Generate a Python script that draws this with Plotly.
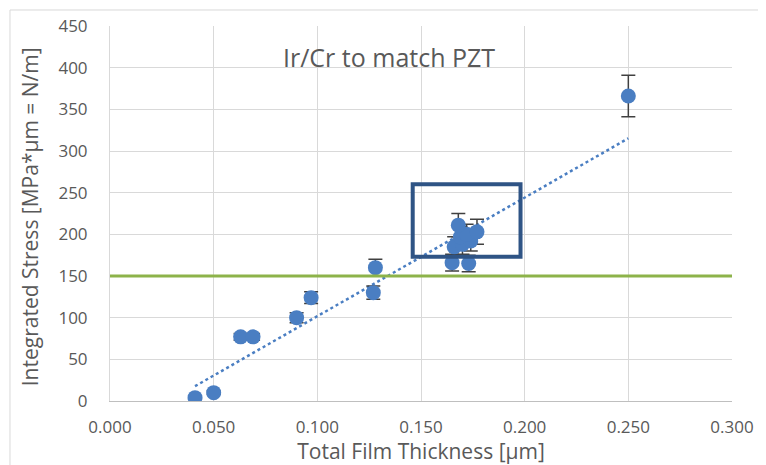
import numpy as np
import plotly.graph_objects as go

thickness = [0.041, 0.050, 0.063, 0.069, 0.090, 0.097, 0.127, 0.128,
             0.165, 0.173, 0.166, 0.170, 0.174, 0.169, 0.172, 0.168, 0.177, 0.250]
stress = [4, 10, 77, 77, 100, 124, 130, 160,
          166, 165, 185, 188, 192, 197, 200, 211, 203, 366]
stress_err = [2, 2, 4, 4, 6, 7, 8, 10,
              10, 10, 12, 12, 12, 12, 12, 14, 15, 25]

target_stress = 150
box_x = [0.146, 0.198]
box_y = [173, 260]
x_ticks = [0.0, 0.05, 0.10, 0.15, 0.20, 0.25, 0.30]
x_tick_text = ["0.000", "0.050", "0.100", "0.150", "0.200", "0.250", "0.300"]
y_ticks = [0, 50, 100, 150, 200, 250, 300, 350, 400, 450]

FONT = "Open Sans"
GRAY = "#595959"
BLUE = "#4A7EC2"

slope, intercept = np.polyfit(thickness, stress, 1)
tx = np.array([min(thickness), max(thickness)])
ty = slope * tx + intercept

fig = go.Figure()
fig.add_trace(go.Scatter(x=tx, y=ty, mode="lines",
                         line=dict(color=BLUE, width=2.5, dash="dot"),
                         hoverinfo="skip", showlegend=False))
fig.add_trace(go.Scatter(
    x=thickness, y=stress, mode="markers",
    marker=dict(color=BLUE, size=15),
    error_y=dict(type="data", array=stress_err, visible=True,
                 color="#404040", thickness=1.5, width=7),
    showlegend=False))

fig.add_shape(type="line", xref="x", yref="y", x0=0, x1=0.3,
              y0=target_stress, y1=target_stress,
              line=dict(color="#8DB34A", width=3))
fig.add_shape(type="rect", xref="x", yref="y", x0=box_x[0], x1=box_x[1],
              y0=box_y[0], y1=box_y[1],
              line=dict(color="#2F5485", width=4))
# outer chart border
fig.add_shape(type="rect", xref="paper", yref="paper",
              x0=-0.1608, x1=1.2, y0=-0.3, y1=1.0427,
              line=dict(color="#D9D9D9", width=1), layer="below")

fig.add_annotation(x=0.1348, y=413, xref="x", yref="y",
                   text="Ir/Cr to match PZT", showarrow=False,
                   font=dict(family=FONT, size=25, color=GRAY))
# y-axis title
fig.add_annotation(x=-0.1286, y=0.49, xref="paper", yref="paper",
                   text="Integrated Stress [MPa*µm = N/m]", showarrow=False,
                   textangle=-90, xanchor="center", yanchor="middle",
                   font=dict(family=FONT, size=21, color=GRAY))

fig.update_layout(
    width=758, height=457,
    margin=dict(l=102, r=34, t=18, b=64),
    paper_bgcolor="white", plot_bgcolor="white",
    font=dict(family=FONT, color=GRAY, size=17),
    xaxis=dict(range=[0, 0.3], tickvals=x_ticks, ticktext=x_tick_text,
               automargin=False,
               showgrid=True, gridcolor="#D9D9D9", gridwidth=1,
               zeroline=False, showline=True, linecolor="#BFBFBF", linewidth=1,
               mirror=False, ticks="", ticklabelstandoff=11,
               title=dict(text="Total Film Thickness [µm]", font=dict(size=21), standoff=3),
               tickfont=dict(size=17)),
    yaxis=dict(range=[0, 450], tickvals=y_ticks,
               automargin=False,
               showgrid=True, gridcolor="#D9D9D9", gridwidth=1,
               zeroline=False, showline=True, linecolor="#D9D9D9", linewidth=1,
               ticks="", ticklabelstandoff=18,
               tickfont=dict(size=17)),
)

fig.write_html("out.html")
